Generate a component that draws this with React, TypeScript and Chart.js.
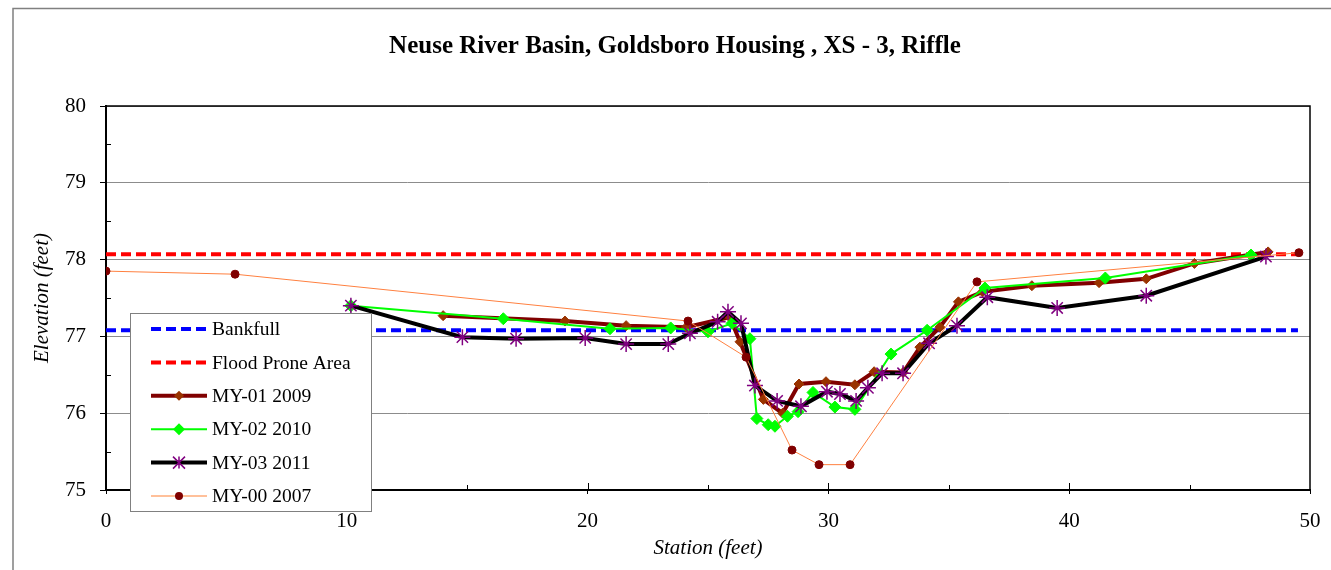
import React, { useEffect, useRef } from "react";
import { Chart, registerables } from "chart.js";

Chart.register(...registerables);

const TITLE = "Neuse River Basin, Goldsboro Housing , XS - 3, Riffle";
const X_TITLE = "Station (feet)";
const Y_TITLE = "Elevation (feet)";

const bankfullX = [0, 49.5];
const bankfullY = [77.08, 77.08];
const floodX = [0, 49.5];
const floodY = [78.07, 78.07];

const my01X = [14.0, 19.06, 21.6, 24.1, 25.9, 26.33, 27.3, 28.1, 28.78, 29.9, 31.1, 31.9, 33.1, 33.8, 34.63, 35.4, 36.4, 38.45, 41.24, 43.2, 45.2, 48.26];
const my01Y = [77.27, 77.2, 77.14, 77.12, 77.25, 76.93, 76.18, 76.0, 76.38, 76.41, 76.37, 76.54, 76.53, 76.86, 77.12, 77.45, 77.58, 77.66, 77.7, 77.75, 77.95, 78.1];

const my02X = [10.17, 16.5, 20.93, 23.45, 25.0, 26.0, 26.74, 27.03, 27.5, 27.78, 28.3, 28.74, 29.36, 30.27, 31.1, 32.6, 34.1, 36.5, 41.5, 47.55];
const my02Y = [77.4, 77.23, 77.1, 77.11, 77.06, 77.17, 76.97, 75.93, 75.85, 75.83, 75.96, 76.02, 76.27, 76.08, 76.05, 76.77, 77.08, 77.63, 77.76, 78.06];

const my03X = [10.17, 14.8, 17.03, 19.9, 21.6, 23.35, 24.25, 25.4, 25.83, 26.37, 26.95, 27.87, 28.86, 29.94, 30.48, 31.15, 31.64, 32.23, 33.1, 34.18, 35.34, 36.6, 39.5, 43.2, 48.17];
const my03Y = [77.4, 76.99, 76.97, 76.98, 76.9, 76.9, 77.04, 77.19, 77.32, 77.17, 76.36, 76.16, 76.09, 76.28, 76.25, 76.16, 76.33, 76.52, 76.52, 76.91, 77.14, 77.51, 77.37, 77.53, 78.04];

const my00X = [0, 5.36, 24.17, 26.58, 28.49, 29.61, 30.9, 36.17, 49.54];
const my00Y = [77.85, 77.81, 77.2, 76.73, 75.52, 75.33, 75.33, 77.71, 78.09];

const X_MIN = 0, X_MAX = 50, X_STEP = 10;
const Y_MIN = 75, Y_MAX = 80, Y_STEP = 1;

const toPts = (xs: number[], ys: number[]) => xs.map((x, i) => ({ x, y: ys[i] }));

const FONT = "'Liberation Serif', 'Times New Roman', serif";

type LegendItem = { label: string; color: string; width: number; dash?: number[]; marker?: string; mColor?: string; mSize?: number };
const legendItems: LegendItem[] = [
  { label: "Bankfull", color: "#0000FF", width: 4, dash: [10, 5] },
  { label: "Flood Prone Area", color: "#FF0000", width: 4, dash: [10, 5] },
  { label: "MY-01 2009", color: "#800000", width: 4, marker: "diamond", mColor: "#993300", mSize: 5 },
  { label: "MY-02 2010", color: "#00FF00", width: 2, marker: "diamond", mColor: "#00FF00", mSize: 6 },
  { label: "MY-03 2011", color: "#000000", width: 4, marker: "star", mColor: "#800080", mSize: 6 },
  { label: "MY-00 2007", color: "#FFC09A", width: 2, marker: "circle", mColor: "#800000", mSize: 4 },
];

const decorPlugin = {
  id: "decor",
  beforeDatasetsDraw(chart: any) {
    const { ctx, chartArea } = chart;
    ctx.save();
    ctx.strokeStyle = "#000";
    ctx.lineWidth = 1.5;
    ctx.strokeRect(chartArea.left, chartArea.top, chartArea.right - chartArea.left, chartArea.bottom - chartArea.top);
    const xs = chart.scales.x;
    const ys = chart.scales.y;
    ctx.lineWidth = 1;
    ctx.beginPath();
    for (let v = Y_MIN + 0.5; v < Y_MAX; v += 1) {
      const py = Math.round(ys.getPixelForValue(v)) + 0.5;
      ctx.moveTo(chartArea.left, py);
      ctx.lineTo(chartArea.left + 5, py);
    }
    for (let v = X_MIN + 5; v < X_MAX; v += 5) {
      const px = Math.round(xs.getPixelForValue(v)) + 0.5;
      const len = v % 10 === 0 ? 7 : 5;
      ctx.moveTo(px, chartArea.bottom);
      ctx.lineTo(px, chartArea.bottom - len);
    }
    ctx.stroke();
    ctx.restore();
  },
  afterDraw(chart: any) {
    const { ctx } = chart;
    ctx.save();
    ctx.strokeStyle = "#808080";
    ctx.lineWidth = 1.5;
    ctx.beginPath();
    ctx.moveTo(13, 570);
    ctx.lineTo(13, 8.5);
    ctx.lineTo(1331, 8.5);
    ctx.stroke();
    ctx.fillStyle = "#000";
    ctx.font = `bold 25px ${FONT}`;
    ctx.textAlign = "center";
    ctx.textBaseline = "middle";
    ctx.fillText(TITLE, 675, 47);
    const bx = 130, by = 313, bw = 241, bh = 198;
    ctx.fillStyle = "#fff";
    ctx.fillRect(bx, by, bw, bh);
    ctx.strokeStyle = "#808080";
    ctx.lineWidth = 1;
    ctx.strokeRect(bx + 0.5, by + 0.5, bw, bh);
    legendItems.forEach((it, i) => {
      const cy = 329 + i * 33.4;
      ctx.save();
      ctx.strokeStyle = it.color;
      ctx.lineWidth = it.width;
      ctx.setLineDash(it.dash || []);
      ctx.beginPath();
      ctx.moveTo(151, cy);
      ctx.lineTo(207, cy);
      ctx.stroke();
      ctx.setLineDash([]);
      const mx = 179;
      const s = it.mSize || 4;
      if (it.marker === "diamond") {
        ctx.fillStyle = it.mColor!;
        ctx.beginPath();
        ctx.moveTo(mx, cy - s);
        ctx.lineTo(mx + s, cy);
        ctx.lineTo(mx, cy + s);
        ctx.lineTo(mx - s, cy);
        ctx.closePath();
        ctx.fill();
      } else if (it.marker === "circle") {
        ctx.fillStyle = it.mColor!;
        ctx.beginPath();
        ctx.arc(mx, cy, s, 0, Math.PI * 2);
        ctx.fill();
      } else if (it.marker === "star") {
        ctx.strokeStyle = it.mColor!;
        ctx.lineWidth = 1.5;
        ctx.beginPath();
        ctx.moveTo(mx, cy - s); ctx.lineTo(mx, cy + s);
        ctx.moveTo(mx - s, cy - s); ctx.lineTo(mx + s, cy + s);
        ctx.moveTo(mx - s, cy + s); ctx.lineTo(mx + s, cy - s);
        ctx.stroke();
      }
      ctx.restore();
      ctx.fillStyle = "#000";
      ctx.font = `19.5px ${FONT}`;
      ctx.textAlign = "left";
      ctx.textBaseline = "middle";
      ctx.fillText(it.label, 212, cy + 1);
    });
    ctx.restore();
  },
};

export default function App() {
  const ref = useRef<HTMLCanvasElement>(null);
  useEffect(() => {
    if (!ref.current) return;
    const chart = new Chart(ref.current, {
      type: "scatter",
      data: {
        datasets: [
          { label: "Bankfull", data: toPts(bankfullX, bankfullY), showLine: true, borderColor: "#0000FF", borderWidth: 4, borderDash: [10, 5], pointRadius: 0, order: 6 },
          { label: "Flood Prone Area", data: toPts(floodX, floodY), showLine: true, borderColor: "#FF0000", borderWidth: 4, borderDash: [10, 5], pointRadius: 0, order: 5 },
          { label: "MY-01 2009", data: toPts(my01X, my01Y), showLine: true, borderColor: "#800000", borderWidth: 4, pointStyle: "rectRot", pointRadius: 5, pointBackgroundColor: "#993300", pointBorderColor: "#993300", pointBorderWidth: 1, order: 4 },
          { label: "MY-02 2010", data: toPts(my02X, my02Y), showLine: true, borderColor: "#00FF00", borderWidth: 2, pointStyle: "rectRot", pointRadius: 6, pointBackgroundColor: "#00FF00", pointBorderColor: "#00FF00", pointBorderWidth: 1, order: 3 },
          { label: "MY-03 2011", data: toPts(my03X, my03Y), showLine: true, borderColor: "#000000", borderWidth: 4, pointStyle: "star", pointRadius: 8, pointBackgroundColor: "#800080", pointBorderColor: "#800080", pointBorderWidth: 1.5, order: 2 },
          { label: "MY-00 2007", data: toPts(my00X, my00Y), showLine: true, borderColor: "#FF8040", borderWidth: 1, pointStyle: "circle", pointRadius: 4, pointBackgroundColor: "#800000", pointBorderColor: "#800000", pointBorderWidth: 1, order: 1 },
        ],
      },
      options: {
        responsive: false,
        animation: false,
        layout: { padding: { left: 0, right: 21, top: 106, bottom: 0 } },
        plugins: { legend: { display: false }, tooltip: { enabled: false }, title: { display: false } },
        scales: {
          x: {
            type: "linear",
            min: X_MIN,
            max: X_MAX,
            ticks: { stepSize: X_STEP, color: "#000", font: { family: FONT, size: 21 }, padding: 15, maxRotation: 0 },
            grid: { drawOnChartArea: false, tickLength: 4, tickColor: "#000", tickWidth: 1 },
            border: { display: true, color: "#000", width: 2 },
            title: { display: true, text: X_TITLE, color: "#000", font: { family: FONT, size: 21, style: "italic" }, padding: { top: 0, bottom: 9 } },
            afterFit: (s: any) => { s.height = 80; s.paddingRight = 0; s.paddingLeft = 0; },
          },
          y: {
            type: "linear",
            min: Y_MIN,
            max: Y_MAX,
            ticks: { stepSize: Y_STEP, color: "#000", font: { family: FONT, size: 21 }, padding: 14 },
            grid: { color: "#8c8c8c", lineWidth: 1, tickLength: 6, tickColor: "#000" },
            border: { display: true, color: "#000", width: 2 },
            title: { display: true, text: Y_TITLE, color: "#000", font: { family: FONT, size: 21, style: "italic" }, padding: { top: 30, bottom: 0 } },
            afterFit: (s: any) => { s.width = 106; s.paddingTop = 0; s.paddingBottom = 0; },
          },
        },
      },
      plugins: [decorPlugin],
    });
    return () => chart.destroy();
  }, []);
  return (
    <div style={{ position: "fixed", left: 0, top: 0, width: 1331, height: 570, background: "#fff" }}>
      <canvas ref={ref} width={1331} height={570} style={{ width: 1331, height: 570, display: "block" }} />
    </div>
  );
}
